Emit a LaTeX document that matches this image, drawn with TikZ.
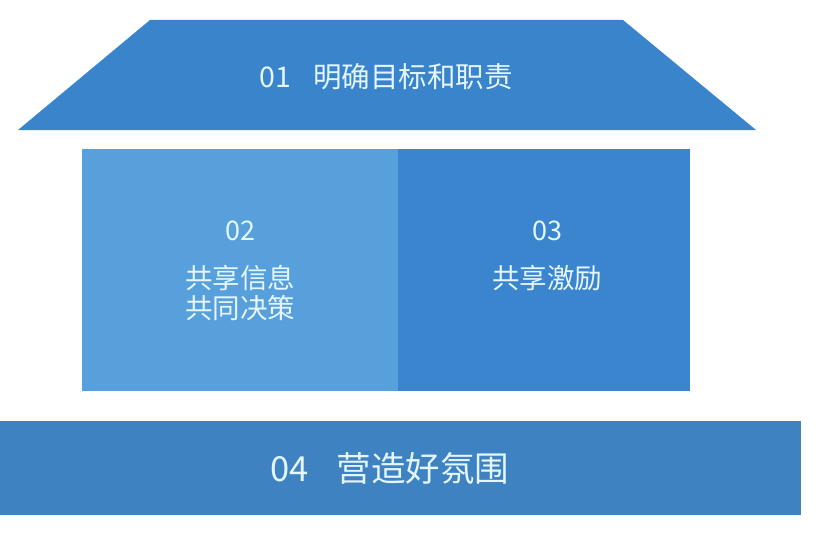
\documentclass[tikz,border=0pt]{standalone}
\usepackage{fontspec}
\setmainfont{Noto Sans CJK SC}
\usetikzlibrary{positioning}
\definecolor{roofblue}{RGB}{58,132,204}
\definecolor{lightblue}{RGB}{88,160,220}
\definecolor{midblue}{RGB}{58,133,206}
\definecolor{baseblue}{RGB}{62,130,194}
\definecolor{labelwhite}{RGB}{228,246,255}
\tikzset{
  hsblock/.style={draw=none, inner sep=0pt, outer sep=0pt, anchor=north west},
  hslabel/.style={text=labelwhite, align=center, inner sep=0pt},
  hsnum/.style={hslabel, font=\fontsize{27}{29}\selectfont},
  hstext/.style={hslabel, font=\fontsize{27.5}{30}\selectfont}
}

\begin{document}
\begin{tikzpicture}[x=1pt, y=-1pt, node distance=24pt]
\useasboundingbox (0,0) rectangle (818,532);
\fill[white] (0,0) rectangle (818,532);

% roof
\fill[roofblue] (150,20) -- (623,20) -- (756,130) -- (18,130) -- cycle;
\node[hstext, font=\fontsize{28.5}{30}\selectfont] (goal) at (386,77) {01\hspace{22pt}明确目标和职责};

% two walls
\node[hsblock, fill=lightblue, minimum width=316pt, minimum height=242pt] (share) at (82,149) {};
\node[hsblock, fill=midblue, minimum width=292pt, minimum height=242pt] (reward) at (398,149) {};

\node[hsnum] (num2) at (240,231) {02};
\node[hstext, below=of num2] (sharetext) {共享信息\\共同决策};
\node[hsnum] (num3) at (547,231) {03};
\node[hstext, below=of num3] (rewardtext) {共享激励};

% base
\node[hsblock, fill=baseblue, minimum width=801pt, minimum height=94pt] (base) at (0,421) {};
\node[hstext, font=\fontsize{34.5}{36}\selectfont] (mood) at (390,468) {04\hspace{28pt}营造好氛围};
\end{tikzpicture}
\end{document}
